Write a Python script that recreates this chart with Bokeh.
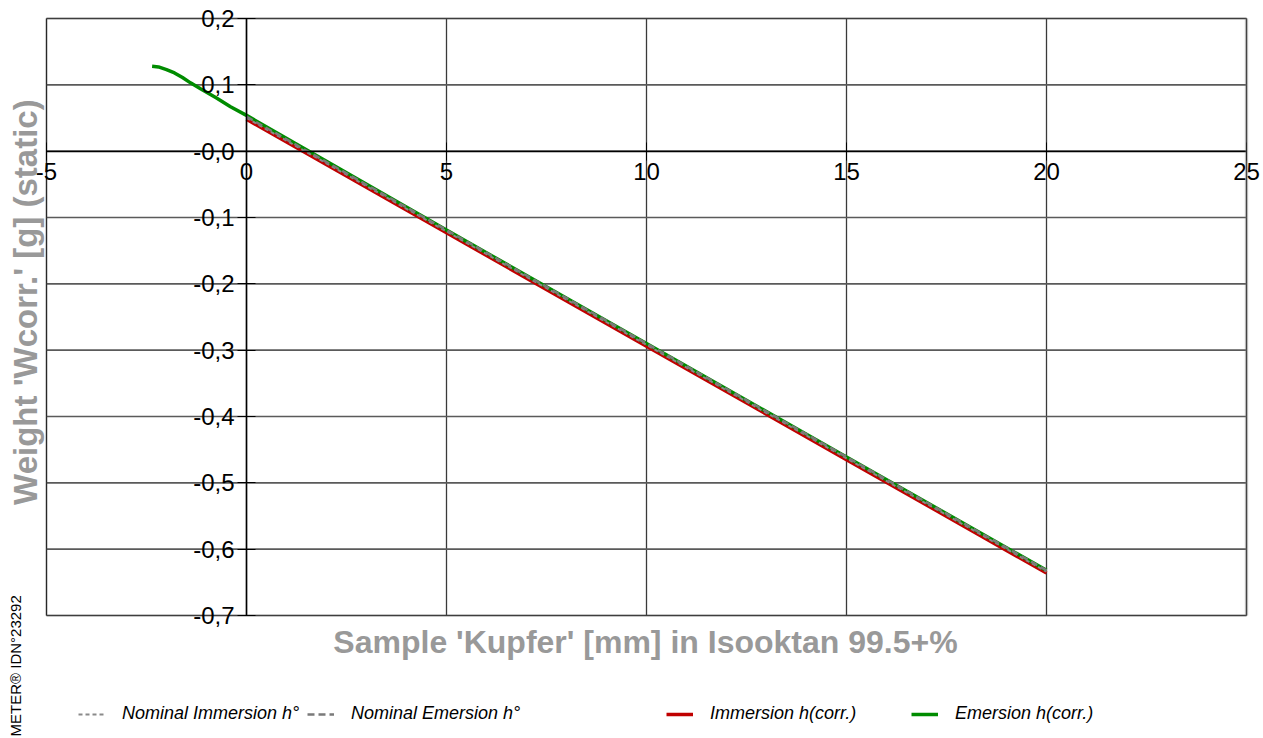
from bokeh.plotting import figure
from bokeh.models import (LinearAxis, FixedTicker, CustomJSTickFormatter, BoxAnnotation,
                          Legend, LegendItem, Label, Grid)
from bokeh.embed import file_html
from bokeh.resources import INLINE

# ---- data ----
x_ticks = [-5, 0, 5, 10, 15, 20, 25]
y_ticks = [-0.7, -0.6, -0.5, -0.4, -0.3, -0.2, -0.1, 0.0, 0.1, 0.2]

nom_imm_x = [0, 5, 10, 15, 20]
nom_imm_y = [0.050, -0.121, -0.292, -0.463, -0.634]
nom_em_x = [0, 5, 10, 15, 20]
nom_em_y = [0.052, -0.119, -0.290, -0.461, -0.632]
imm_x = [0, 5, 10, 15, 20]
imm_y = [0.048, -0.123, -0.294, -0.465, -0.636]
em_x = [-2.36, -2.2, -2.0, -1.8, -1.6, -1.4, -1.15, -0.75, -0.4, 0, 5, 10, 15, 20]
em_y = [0.128, 0.127, 0.123, 0.118, 0.111, 0.103, 0.094, 0.080, 0.067, 0.054,
        -0.119, -0.290, -0.461, -0.632]

x_title = "Sample 'Kupfer' [mm] in Isooktan 99.5+%"
y_title = "Weight 'Wcorr.' [g]  (static)"
stamp_text = "METER® IDN°23292"

FONT = "Liberation Sans"
xmin, xmax = min(x_ticks), max(x_ticks)
ymin, ymax = min(y_ticks), max(y_ticks)

W, H = 1263, 738
p = figure(width=W, height=H, x_range=(-6.15, 25.425), y_range=(-0.88543, 0.22714),
           output_backend="svg", toolbar_location=None,
           x_axis_location=None, y_axis_location=None,
           min_border_left=0, min_border_right=0, min_border_top=0, min_border_bottom=0,
           background_fill_color="white", border_fill_color="white")
p.outline_line_color = None
# remove any default grids
p.center = [c for c in p.center if not isinstance(c, Grid)]

# grid lines limited to the plotting box, built from the tick lists
p.segment(x0=x_ticks, y0=[ymin] * len(x_ticks), x1=x_ticks, y1=[ymax] * len(x_ticks),
          line_color="#3a3a3a", line_width=1.3, level="underlay")
p.segment(x0=[xmin] * len(y_ticks), y0=y_ticks, x1=[xmax] * len(y_ticks), y1=y_ticks,
          line_color="#5a5a5a", line_width=1.6, level="underlay")

xfmt = CustomJSTickFormatter(code="return tick.toFixed(0);")
yfmt = CustomJSTickFormatter(code="""
if (Math.abs(tick) < 1e-9) { return '-0,0'; }
return tick.toFixed(1).replace('.', ',');
""")

xaxis = LinearAxis(fixed_location=0, ticker=FixedTicker(ticks=x_ticks), formatter=xfmt,
                   bounds=(xmin, xmax))
yaxis = LinearAxis(fixed_location=0, ticker=FixedTicker(ticks=y_ticks), formatter=yfmt,
                   bounds=(ymin, ymax))
for ax in (xaxis, yaxis):
    ax.axis_line_color = "black"
    ax.axis_line_width = 1.5
    ax.major_tick_in = 9
    ax.major_tick_out = 9
    ax.major_tick_line_color = "black"
    ax.minor_tick_line_color = None
    ax.major_label_text_font = FONT
    ax.major_label_text_font_size = "24px"
    ax.major_label_text_color = "black"
    ax.major_label_standoff = 3
p.add_layout(xaxis, "below")
p.add_layout(yaxis, "left")

# data lines
r_imm = p.line(imm_x, imm_y, line_color="#c00000", line_width=3.5)
r_em = p.line(em_x, em_y, line_color="#008c00", line_width=3.5)
r_nimm = p.line(nom_imm_x, nom_imm_y, line_color="#8a8a8a", line_width=2, line_dash="4 3")
r_nem = p.line(nom_em_x, nom_em_y, line_color="#7a7a7a", line_width=2.5, line_dash="7 4")

# plot box border
p.add_layout(BoxAnnotation(left=xmin, right=xmax, bottom=ymin, top=ymax,
                           fill_alpha=0, line_color="black", line_width=1.5))
p.add_layout(BoxAnnotation(left=xmax, right=xmax, bottom=ymin, top=ymax,
                           fill_alpha=0, line_color="#888888", line_width=3.5))

# axis titles
p.add_layout(Label(x=645, y=97, x_units="screen", y_units="screen", text=x_title,
                   text_font=FONT, text_font_size="32px", text_font_style="bold",
                   text_color="#999999", text_align="center", text_baseline="middle"))
p.add_layout(Label(x=25, y=441, x_units="screen", y_units="screen", angle=1.5708,
                   text=y_title, text_font=FONT, text_font_size="33px",
                   text_font_style="bold", text_color="#999999",
                   text_align="center", text_baseline="middle"))

# legends
legend_specs = [
    ("Nominal Immersion h°", r_nimm, 78),
    ("Nominal Emersion h°", r_nem, 307),
    ("Immersion h(corr.)", r_imm, 666),
    ("Emersion h(corr.)", r_em, 911),
]
for label, r, lx in legend_specs:
    lg = Legend(items=[LegendItem(label=label, renderers=[r])], location=(lx, 14),
                border_line_color=None, background_fill_alpha=0, padding=0, margin=0,
                label_text_font=FONT, label_text_font_style="italic",
                label_text_font_size="18px", label_text_color="black",
                glyph_width=27, label_standoff=17)
    p.add_layout(lg, "center")

# side stamp
p.add_layout(Label(x=15, y=2, x_units="screen", y_units="screen", angle=1.5708,
                   text=stamp_text, text_font=FONT, text_font_size="15px",
                   text_color="black", text_baseline="middle", text_align="left"))

open("out.html", "w").write(file_html(p, INLINE))
